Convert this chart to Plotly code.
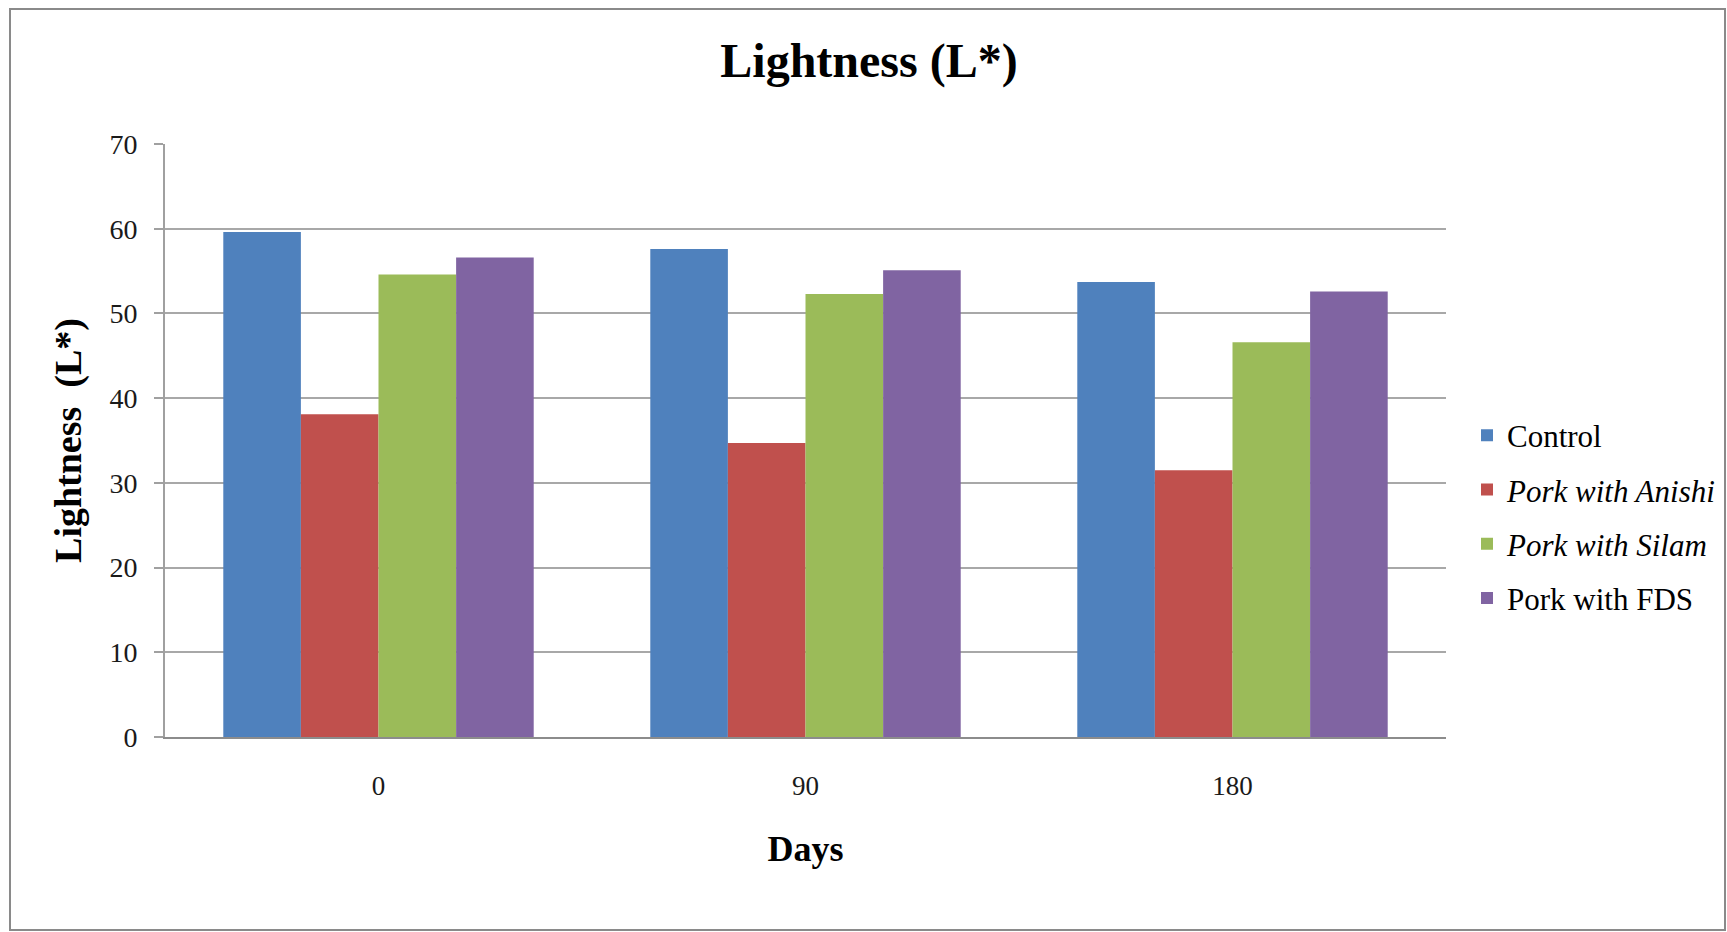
import plotly.graph_objects as go

# Storage days and mean lightness (L*) for each treatment
days = ["0", "90", "180"]
control = [59.6, 57.6, 53.7]
anishi = [38.1, 34.7, 31.5]
silam = [54.6, 52.3, 46.6]
fds = [56.6, 55.1, 52.6]

series_names = ["Control", "<i>Pork with Anishi</i>", "<i>Pork with Silam</i>", "Pork with FDS"]
series_values = [control, anishi, silam, fds]
series_colors = ["#4F81BD", "#C0504D", "#9BBB59", "#8064A2"]

y_ticks = [0, 10, 20, 30, 40, 50, 60, 70]

FONT = "Liberation Serif, Times New Roman, serif"

W, H = 1727, 932
L, R, T, B = 165, 281, 144, 195
pw, ph = W - L - R, H - T - B

fig = go.Figure()
for i, (name, vals, col) in enumerate(zip(series_names, series_values, series_colors)):
    fig.add_trace(go.Bar(
        x=days, y=vals, name=name, legendgroup=f"g{i}",
        marker=dict(color=col, line=dict(width=0)),
    ))

# outer chart border
def px_x(v):
    return (v - L) / pw

def px_y(v):
    return (H - B - v) / ph

fig.add_shape(type="rect", xref="paper", yref="paper",
              x0=px_x(10), x1=px_x(1725), y0=px_y(930), y1=px_y(9),
              line=dict(color="#8a8a8a", width=2), fillcolor="rgba(0,0,0,0)", layer="below")

fig.update_layout(
    width=W, height=H,
    margin=dict(l=L, r=R, t=T, b=B, autoexpand=False),
    paper_bgcolor="white", plot_bgcolor="white",
    barmode="group", bargap=0.273, bargroupgap=0,
    font=dict(family=FONT, color="#1a1a1a", size=27),
    title=dict(text="<b>Lightness (L*)</b>", x=869 / W, xref="container", xanchor="center",
               y=1 - 60 / H, yref="container", yanchor="middle",
               font=dict(family=FONT, size=48, color="black")),
    legend=dict(x=px_x(1467), xanchor="left", y=px_y(517), yanchor="middle",
                font=dict(family=FONT, size=31, color="black"),
                tracegroupgap=11, traceorder="grouped", bgcolor="rgba(0,0,0,0)"),
    showlegend=True,
)

fig.update_xaxes(
    type="category", showgrid=False, showline=True, linecolor="#8c8c8c", linewidth=2,
    ticks="", ticklabelstandoff=24,
    tickfont=dict(family=FONT, size=27, color="#1a1a1a"),
    title=dict(text="<b>Days</b>", font=dict(family=FONT, size=36, color="black"), standoff=35),
)
fig.update_yaxes(
    range=[0, 70], tickvals=y_ticks, showgrid=True, gridcolor="#a8a8a8", gridwidth=2,
    showline=True, linecolor="#a0a0a0", linewidth=2, zeroline=False,
    ticks="outside", ticklen=9, tickcolor="#a0a0a0", tickwidth=2, ticklabelstandoff=11,
    tickfont=dict(family=FONT, size=28, color="#1a1a1a"),
    title=dict(text="<b>Lightness\u00a0 (L*)</b>", font=dict(family=FONT, size=38, color="black"), standoff=16),
)

fig.write_html("out.html")
